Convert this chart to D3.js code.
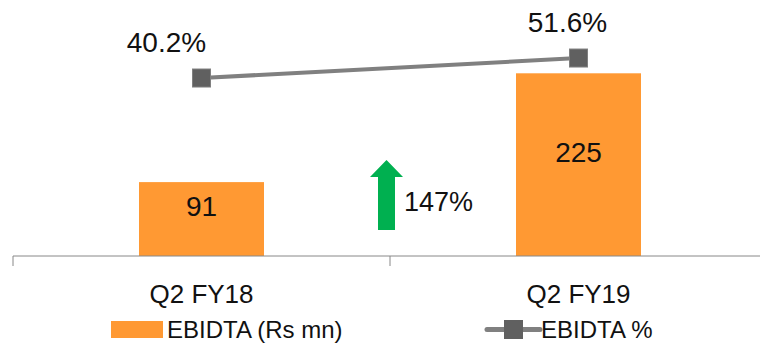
<!DOCTYPE html>
<html><head><meta charset="utf-8">
<script src="https://cdn.jsdelivr.net/npm/d3@7"></script>
<style>body{margin:0;background:#fff;} text{font-family:"Liberation Sans",Arial,sans-serif;fill:#111;}</style>
</head><body>
<svg id="c" width="760" height="346"></svg>
<script>
const categories = ["Q2 FY18", "Q2 FY19"];
const ebidta = [91, 225];
const ebidtaPct = [40.2, 51.6];
const growthLabel = "147%";
const legendLabels = ["EBIDTA (Rs mn)", "EBIDTA %"];

const svg = d3.select("#c");
const x = d3.scaleBand().domain(categories).range([13, 767]).paddingInner(0).paddingOuter(0);
const y = d3.scaleLinear().domain([0, 250]).range([256, 53]);
const y2 = d3.scaleLinear().domain([0, 60]).range([148.5, 43.3]);
const barW = 125;
const orange = "#FF9933";

// bars
svg.selectAll("rect.bar").data(ebidta).enter().append("rect")
  .attr("x", (d,i) => x(categories[i]) + x.bandwidth()/2 - barW/2)
  .attr("y", d => y(d)).attr("width", barW).attr("height", d => y(0) - y(d))
  .attr("fill", orange);

// axis
const ax = svg.append("g").attr("transform", `translate(0,${y(0)})`)
  .call(d3.axisBottom(x).tickSize(0).tickFormat(""));
ax.select(".domain").attr("stroke", "#888").attr("d", `M${x.range()[0]},0H${x.range()[1]}`);
[13, 13 + x.bandwidth()].forEach(t => ax.append("line").attr("x1", t).attr("x2", t).attr("y1", 0).attr("y2", 10).attr("stroke", "#888"));
categories.forEach(c => svg.append("text").attr("x", x(c) + x.bandwidth()/2).attr("y", 303)
  .attr("text-anchor", "middle").attr("font-size", 26).text(c));

// bar labels
svg.selectAll("text.bl").data(ebidta).enter().append("text")
  .attr("x", (d,i) => x(categories[i]) + x.bandwidth()/2)
  .attr("y", d => (y(d) + y(0))/2 - 3).attr("text-anchor", "middle").attr("font-size", 28).text(d => d);

// line
const cx = i => x(categories[i]) + x.bandwidth()/2;
svg.append("path").datum(ebidtaPct)
  .attr("d", d3.line().x((d,i) => cx(i)).y(d => y2(d)))
  .attr("stroke", "#808080").attr("stroke-width", 4).attr("fill", "none");
svg.selectAll("rect.m").data(ebidtaPct).enter().append("rect")
  .attr("x", (d,i) => cx(i) - 9).attr("y", d => y2(d) - 9).attr("width", 18).attr("height", 18)
  .attr("fill", "#606060").attr("stroke", "#808080").attr("stroke-width", 1);
svg.selectAll("text.pl").data(ebidtaPct).enter().append("text")
  .attr("x", (d,i) => cx(i) - 35 + i*24).attr("y", d => y2(d) - 26)
  .attr("text-anchor", "middle").attr("font-size", 28).text(d => d.toFixed(1) + "%");

// growth arrow
const a0 = 386.5;
svg.append("path").attr("d", `M${a0},160 L${a0+16.5},177 L${a0+8.5},177 L${a0+8.5},230 L${a0-8.5},230 L${a0-8.5},177 L${a0-16.5},177 Z`)
  .attr("fill", "#00B050");
svg.append("text").attr("x", 404).attr("y", 211).attr("font-size", 27).text(growthLabel);

// legend
svg.append("rect").attr("x", 111).attr("y", 321).attr("width", 52).attr("height", 17).attr("fill", orange);
svg.append("text").attr("x", 167).attr("y", 338).attr("font-size", 24).text(legendLabels[0]);
svg.append("line").attr("x1", 487).attr("x2", 540).attr("y1", 329.5).attr("y2", 329.5).attr("stroke", "#808080").attr("stroke-width", 5).attr("stroke-linecap", "round");
svg.append("rect").attr("x", 504).attr("y", 320).attr("width", 19).attr("height", 19).attr("fill", "#606060");
svg.append("text").attr("x", 541).attr("y", 338).attr("font-size", 24).text(legendLabels[1]);
</script>
</body></html>
